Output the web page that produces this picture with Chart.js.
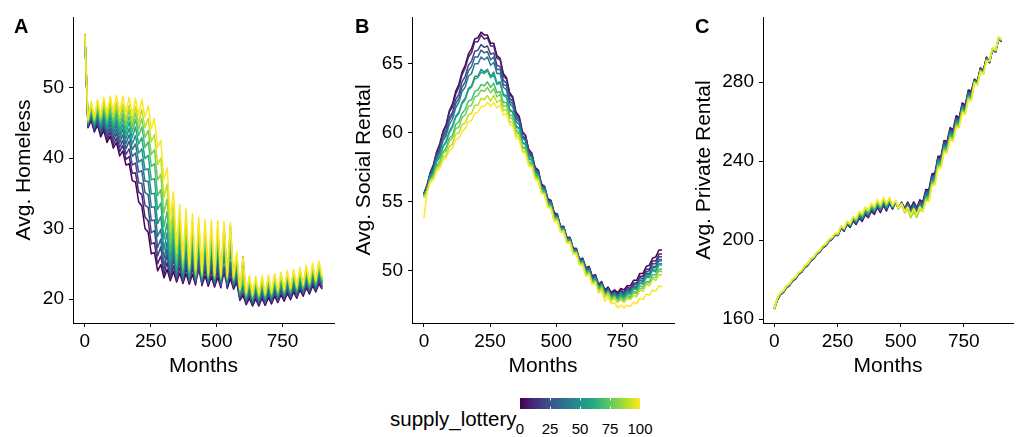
<!DOCTYPE html>
<html>
<head>
<meta charset="utf-8">
<script src="https://cdn.jsdelivr.net/npm/chart.js@4.4.0/dist/chart.umd.min.js"></script>
<style>
  body { margin: 0; background: #fff; width: 1016px; height: 437px; overflow: hidden; position: relative;
         font-family: "Liberation Sans", Arial, sans-serif; color: #000; }
  .panel { position: absolute; top: 0; height: 380px; }
  .tag { position: absolute; top: 16px; font-size: 20px; font-weight: bold; line-height: 1; }
  .lbl { position: absolute; line-height: 1; white-space: nowrap; }
</style>
</head>
<body>
<div class="panel" style="left:0;width:340px"><canvas id="homelessChart"></canvas></div>
<div class="panel" style="left:340px;width:340px"><canvas id="socialChart"></canvas></div>
<div class="panel" style="left:680px;width:336px"><canvas id="privateChart"></canvas></div>
<div class="tag" style="left:14px">A</div>
<div class="tag" style="left:355px">B</div>
<div class="tag" style="left:695px">C</div>

<div class="lbl" style="left:390px;top:409px;font-size:20.5px">supply_lottery</div>
<canvas id="colorbar" width="120" height="11" style="position:absolute;left:520px;top:398px"></canvas>
<div id="barLabels"></div>

<script>
// x values: months of the simulation
const months = [0,12,24,36,48,60,72,84,96,108,120,132,144,156,168,180,192,204,216,228,240,252,264,276,288,300,
  312,324,336,348,360,372,384,396,408,420,432,444,456,468,480,492,504,516,528,540,552,564,576,588,600,
  612,624,636,648,660,672,684,696,708,720,732,744,756,768,780,792,804,816,828,840,852,864,876,888,900];
const monthTicks = [0, 250, 500, 750];
const lotteryLevels = [0, 10, 20, 30, 40, 50, 60, 70, 80, 90, 100];
const legendTicks = [0, 25, 50, 75, 100];

// panel A: Avg. Homeless
const homeless0 = [57.5,44.3,45.3,43.7,44.7,43.0,43.9,42.2,43.1,41.4,42.2,40.3,41.0,39.0,39.2,36.8,36.6,33.8,33.2,30.0,29.5,26.4,26.6,24.0,24.9,23.0,24.2,22.6,23.9,22.4,23.7,22.2,23.6,22.1,23.5,22.0,28.8,21.9,23.3,21.8,23.2,21.7,23.1,21.6,29.8,21.5,22.9,21.4,22.4,19.8,20.5,19.2,20.1,19.0,20.0,19.0,20.1,19.1,20.2,19.3,20.4,19.5,20.6,19.7,20.8,19.9,21.0,20.1,21.3,20.4,21.6,20.7,21.9,21.0,22.2,21.4];
const homeless10 = [57.5,44.4,45.6,43.9,45.0,43.3,44.4,42.6,43.7,41.9,42.8,40.9,41.8,39.8,40.2,37.8,37.9,35.2,34.8,31.6,31.1,27.8,28.0,25.0,26.1,23.5,25.2,22.8,24.7,22.6,24.5,22.4,24.4,22.3,24.3,22.2,24.2,22.1,24.1,22.0,24.0,21.9,23.9,21.8,23.8,21.7,23.7,21.6,22.6,20.0,20.9,19.4,20.5,19.2,20.4,19.2,20.4,19.3,20.6,19.5,20.8,19.7,21.0,19.9,21.2,20.1,21.4,20.3,21.6,20.6,21.9,20.9,22.2,21.2,22.6,21.6];
const homeless20 = [57.5,44.5,45.8,44.1,45.4,43.6,44.8,43.0,44.2,42.4,43.5,41.5,42.5,40.5,41.3,39.0,39.3,36.5,36.4,33.3,33.0,29.4,29.7,26.1,27.4,24.1,26.3,23.2,25.7,22.9,25.4,22.6,25.2,22.5,25.1,22.4,25.0,22.3,24.9,22.2,24.8,22.1,24.7,22.0,24.6,21.9,24.5,21.8,23.1,20.1,26.0,19.5,20.7,19.3,20.6,19.3,20.7,19.4,20.8,19.6,21.0,19.8,21.2,20.0,21.4,20.2,21.6,20.4,21.9,20.7,22.2,21.0,22.5,21.3,22.8,21.7];
const homeless30 = [57.5,44.7,46.1,44.3,45.7,43.9,45.3,43.4,44.8,42.9,44.1,42.1,43.3,41.3,42.4,40.2,40.7,38.0,38.2,35.1,34.8,31.1,31.2,27.3,28.5,24.6,27.1,23.5,26.6,23.1,26.2,22.8,26.0,22.6,25.8,22.5,25.7,22.4,25.6,22.3,25.5,22.2,25.4,22.1,30.3,22.0,25.2,21.9,23.5,20.3,21.5,19.7,21.1,19.5,21.0,19.5,21.0,19.6,21.2,19.8,21.4,20.0,21.6,20.2,21.8,20.4,22.0,20.6,22.2,20.9,22.5,21.2,22.8,21.5,23.2,21.9];
const homeless40 = [57.5,44.8,46.4,44.5,46.1,44.2,45.7,43.8,45.3,43.4,44.8,42.7,44.1,42.0,43.3,41.2,42.0,39.4,39.8,36.7,36.7,33.0,33.1,28.9,29.9,25.7,28.1,24.1,27.5,23.4,27.1,23.0,26.8,22.8,26.6,22.7,26.5,22.6,26.4,22.5,26.3,22.4,26.2,22.3,26.1,22.2,30.3,22.1,24.0,20.5,21.8,19.9,21.4,19.7,21.3,19.7,21.4,19.8,21.5,20.0,21.7,20.2,21.9,20.4,22.1,20.6,22.3,20.8,22.6,21.1,22.9,21.4,23.2,21.7,23.5,22.1];
const homeless50 = [57.5,44.9,46.6,44.7,46.4,44.5,46.2,44.2,45.9,43.9,45.4,43.3,44.8,42.7,44.2,42.0,43.2,40.7,41.3,38.3,38.5,34.9,35.0,30.7,31.7,27.0,29.4,24.8,28.5,23.8,28.1,23.3,27.7,23.0,27.5,22.9,27.4,22.8,27.3,22.7,27.2,22.6,27.1,22.5,27.0,22.4,26.9,22.3,24.5,20.7,22.2,20.1,21.8,19.9,21.7,19.9,21.7,20.0,21.9,20.2,22.1,20.4,22.3,20.6,22.5,20.8,22.7,21.0,22.9,21.3,23.2,21.6,23.5,21.9,23.9,22.3];
const homeless60 = [57.5,45.0,46.9,44.9,46.8,44.8,46.6,44.6,46.4,44.4,46.1,43.9,45.6,43.4,45.1,42.9,44.4,42.0,42.9,39.9,40.4,36.9,37.1,32.7,33.6,28.5,30.8,25.5,29.5,24.3,29.1,23.7,28.6,23.3,28.3,23.1,28.2,23.0,28.1,22.9,28.0,22.8,27.9,22.7,27.8,22.6,27.7,22.5,25.0,20.8,22.4,20.2,22.0,20.0,21.9,20.0,22.0,20.1,22.1,20.3,22.3,20.5,22.5,20.7,22.7,20.9,22.9,21.1,23.2,21.4,23.5,21.7,23.8,22.0,24.1,22.4];
const homeless70 = [57.5,45.1,47.1,45.1,47.1,45.1,47.1,45.0,47.0,44.9,46.7,44.5,46.3,44.1,45.9,43.7,45.5,43.2,44.4,41.5,42.3,38.8,39.2,34.7,35.5,30.2,32.4,26.7,30.6,24.9,30.0,24.1,29.6,23.7,29.2,23.3,29.0,23.2,28.9,23.1,28.8,23.0,28.7,22.9,28.6,22.8,28.5,22.7,25.5,21.0,22.8,20.4,22.4,20.2,22.3,20.2,22.3,20.3,22.5,20.5,22.7,20.7,22.9,20.9,23.1,21.1,23.3,21.3,23.5,21.6,23.8,21.9,24.1,22.2,24.5,22.6];
const homeless80 = [57.5,45.2,47.4,45.3,47.5,45.4,47.5,45.4,47.5,45.4,47.4,45.1,47.1,44.8,46.8,44.5,46.4,44.1,45.6,42.9,43.9,40.5,41.2,36.9,37.7,32.2,34.2,28.1,31.9,25.7,31.0,24.5,30.6,24.0,30.1,23.5,29.8,23.3,29.6,23.2,29.5,23.1,29.4,23.0,29.3,22.9,29.2,22.8,25.8,21.2,23.1,20.6,22.7,20.4,22.6,20.4,22.7,20.5,22.8,20.7,23.0,20.9,23.2,21.1,23.4,21.3,23.6,21.5,23.9,21.8,24.2,22.1,24.5,22.4,24.8,22.8];
const homeless90 = [57.5,45.3,47.6,45.5,47.8,45.7,48.0,45.8,48.0,45.8,47.9,45.6,47.7,45.4,47.5,45.2,47.3,45.0,46.9,44.3,45.6,42.3,43.3,39.1,40.0,34.4,36.3,29.7,33.4,26.5,32.1,25.0,31.6,24.3,31.0,23.8,30.6,23.5,30.4,23.4,30.3,23.3,30.2,23.2,30.1,23.1,30.0,23.0,26.2,21.3,24.4,20.7,23.0,20.5,22.9,20.5,22.9,20.6,23.1,20.8,23.3,21.0,23.5,21.2,23.7,21.4,23.9,21.6,24.1,21.9,24.4,22.2,24.7,22.5,25.1,22.9];
const homeless100 = [57.5,45.5,48.0,45.8,48.3,46.1,48.6,46.4,48.8,46.6,48.9,46.5,48.8,46.4,48.6,46.2,48.5,46.1,48.3,45.8,47.4,44.2,45.6,41.5,42.5,36.9,38.6,31.7,35.2,27.6,33.4,25.7,32.8,24.7,32.1,24.2,31.6,23.8,31.3,23.6,31.2,23.5,31.1,23.4,31.0,23.3,30.9,23.2,26.7,21.5,26.0,20.9,23.3,20.7,23.2,20.7,23.3,20.8,23.4,21.0,23.6,21.2,23.8,21.4,24.0,21.6,24.2,21.8,24.5,22.1,24.8,22.4,25.1,22.7,25.4,23.1];

// panel B: Avg. Social Rental
const social0 = [55.6,56.2,57.1,57.7,58.6,59.2,60.1,60.6,61.6,62.1,63.0,63.5,64.4,64.9,65.7,66.1,66.8,66.9,67.3,67.1,67.1,66.5,66.5,65.6,65.4,64.3,64.0,62.9,62.6,61.5,61.2,60.1,59.8,58.8,58.5,57.5,57.3,56.3,56.1,55.2,55.1,54.2,54.1,53.2,53.2,52.4,52.4,51.6,51.6,50.8,50.9,50.2,50.3,49.6,49.7,49.0,49.2,48.6,48.8,48.4,48.6,48.4,48.7,48.6,48.9,48.9,49.3,49.3,49.8,49.8,50.3,50.4,50.9,51.0,51.5,51.5];
const social10 = [55.6,56.2,57.1,57.6,58.6,59.1,60.0,60.5,61.5,61.9,62.8,63.3,64.2,64.7,65.5,65.8,66.6,66.6,67.1,66.8,66.9,66.3,66.3,65.4,65.3,64.1,63.9,62.8,62.5,61.4,61.1,60.0,59.8,58.7,58.5,57.4,57.3,56.2,56.1,55.2,55.1,54.2,54.1,53.2,53.2,52.4,52.4,51.6,51.6,50.8,50.9,50.2,50.3,49.6,49.7,49.0,49.1,48.5,48.7,48.3,48.5,48.3,48.6,48.4,48.8,48.7,49.1,49.1,49.6,49.6,50.1,50.1,50.7,50.7,51.2,51.2];
const social20 = [55.5,56.1,57.0,57.5,58.4,58.9,59.8,60.2,61.1,61.5,62.4,62.8,63.7,64.1,64.9,65.2,65.9,66.0,66.4,66.2,66.3,65.7,65.8,64.9,64.8,63.8,63.6,62.5,62.3,61.2,60.9,59.8,59.6,58.6,58.4,57.3,57.2,56.2,56.0,55.1,55.0,54.1,54.0,53.1,53.2,52.3,52.4,51.5,51.6,50.7,50.8,50.1,50.2,49.5,49.6,48.9,49.1,48.4,48.7,48.2,48.4,48.2,48.5,48.3,48.7,48.6,49.0,49.0,49.5,49.4,49.9,50.0,50.5,50.5,51.0,51.0];
const social30 = [55.5,56.1,56.9,57.4,58.3,58.7,59.6,60.0,60.9,61.3,62.1,62.5,63.3,63.7,64.5,64.8,65.5,65.5,66.0,65.8,65.9,65.3,65.5,64.6,64.6,63.5,63.4,62.3,62.1,61.0,60.8,59.7,59.5,58.5,58.3,57.3,57.1,56.1,56.0,55.0,55.0,54.0,54.0,53.1,53.1,52.3,52.3,51.5,51.5,50.7,50.8,50.0,50.2,49.4,49.6,48.8,49.0,48.4,48.6,48.2,48.4,48.1,48.4,48.2,48.6,48.5,48.9,48.8,49.3,49.3,49.8,49.8,50.3,50.3,50.8,50.8];
const social40 = [55.5,56.0,56.9,57.3,58.1,58.6,59.4,59.8,60.6,61.0,61.8,62.2,63.0,63.3,64.1,64.3,65.0,65.0,65.5,65.3,65.5,64.9,65.1,64.3,64.3,63.3,63.1,62.1,61.9,60.8,60.6,59.6,59.4,58.4,58.2,57.2,57.0,56.0,55.9,55.0,54.9,54.0,53.9,53.0,53.1,52.2,52.3,51.4,51.5,50.6,50.8,50.0,50.1,49.4,49.5,48.8,49.0,48.4,48.6,48.1,48.3,48.1,48.4,48.2,48.5,48.4,48.8,48.8,49.3,49.2,49.7,49.7,50.2,50.2,50.7,50.7];
const social50 = [55.4,55.9,56.8,57.1,57.9,58.3,59.0,59.4,60.1,60.5,61.2,61.5,62.2,62.5,63.2,63.4,64.1,64.1,64.6,64.4,64.6,64.1,64.4,63.6,63.7,62.8,62.7,61.7,61.5,60.5,60.3,59.3,59.2,58.2,58.0,57.0,56.9,55.9,55.8,54.9,54.8,53.9,53.9,53.0,53.0,52.2,52.2,51.4,51.4,50.6,50.7,49.9,50.0,49.3,49.4,48.7,49.0,48.3,48.5,48.1,48.3,48.0,48.3,48.1,48.4,48.3,48.7,48.7,49.1,49.1,49.6,49.6,50.1,50.0,50.5,50.5];
const social60 = [55.4,55.9,56.7,57.1,57.9,58.2,59.0,59.3,60.0,60.4,61.1,61.4,62.1,62.4,63.1,63.3,63.9,64.0,64.4,64.3,64.5,64.0,64.2,63.5,63.6,62.7,62.6,61.6,61.5,60.4,60.3,59.3,59.1,58.1,58.0,57.0,56.9,55.9,55.8,54.9,54.8,53.9,53.8,53.0,53.0,52.2,52.2,51.4,51.4,50.6,50.6,49.9,50.0,49.3,49.4,48.7,48.9,48.3,48.5,48.0,48.2,47.9,48.2,48.0,48.3,48.3,48.7,48.6,49.1,49.0,49.5,49.5,50.0,49.9,50.4,50.4];
const social70 = [55.4,55.8,56.6,56.9,57.6,57.9,58.6,58.9,59.6,59.8,60.6,60.8,61.4,61.7,62.3,62.4,63.0,63.1,63.5,63.4,63.7,63.3,63.6,62.9,63.0,62.2,62.2,61.3,61.2,60.2,60.0,59.0,58.9,57.9,57.8,56.9,56.8,55.8,55.7,54.8,54.7,53.8,53.8,52.9,52.9,52.1,52.1,51.3,51.3,50.5,50.6,49.8,49.9,49.2,49.3,48.6,48.9,48.2,48.4,48.0,48.1,47.8,48.1,47.9,48.2,48.1,48.5,48.4,48.9,48.8,49.2,49.2,49.7,49.7,50.1,50.1];
const social80 = [55.3,55.8,56.6,56.8,57.5,57.8,58.5,58.7,59.4,59.6,60.3,60.4,61.1,61.3,61.9,62.0,62.6,62.7,63.1,63.0,63.3,62.9,63.2,62.6,62.8,61.9,62.0,61.1,61.0,60.0,59.9,58.9,58.8,57.8,57.7,56.8,56.7,55.7,55.6,54.7,54.6,53.7,53.7,52.9,52.9,52.1,52.1,51.3,51.3,50.5,50.5,49.7,49.8,49.1,49.2,48.5,48.8,48.1,48.4,47.9,48.1,47.8,48.0,47.8,48.1,48.0,48.4,48.3,48.7,48.7,49.1,49.1,49.5,49.5,50.0,49.9];
const social90 = [55.3,55.7,56.5,56.7,57.4,57.6,58.2,58.4,59.0,59.2,59.9,60.0,60.6,60.7,61.3,61.4,62.0,62.0,62.5,62.4,62.7,62.3,62.7,62.2,62.4,61.6,61.7,60.8,60.7,59.8,59.7,58.7,58.6,57.7,57.6,56.7,56.6,55.6,55.6,54.6,54.6,53.6,53.7,52.8,52.9,52.0,52.1,51.2,51.3,50.4,50.5,49.6,49.8,49.0,49.2,48.4,48.7,48.1,48.3,47.8,48.0,47.7,47.9,47.7,48.0,47.9,48.2,48.1,48.6,48.5,49.0,48.9,49.4,49.3,49.7,49.7];
const social100 = [53.8,55.7,56.4,56.6,57.2,57.4,58.0,58.2,58.7,58.9,59.5,59.6,60.1,60.3,60.8,60.9,61.4,61.5,61.9,61.9,62.2,61.9,62.2,61.8,62.0,61.3,61.4,60.6,60.5,59.6,59.5,58.6,58.5,57.6,57.5,56.6,56.5,55.6,55.5,54.6,54.5,53.6,53.6,52.8,52.8,52.0,52.0,51.2,51.2,50.4,50.4,49.6,49.7,49.0,49.1,48.4,48.5,47.8,48.1,47.6,47.7,47.3,47.5,47.3,47.5,47.4,47.7,47.6,48.0,47.9,48.3,48.2,48.6,48.5,48.9,48.8];

// panel C: Avg. Private Rental
const private0 = [165.0,169.7,172.3,173.5,175.8,176.9,179.2,180.3,182.6,183.7,186.0,187.1,189.4,190.5,192.8,193.9,196.1,197.1,199.3,200.3,202.4,202.3,205.9,204.5,207.9,206.4,209.6,207.9,211.1,209.4,212.8,211.3,214.6,213.0,216.5,213.9,217.6,214.7,218.5,215.7,219.1,216.0,219.2,216.0,219.3,216.3,219.4,216.4,220.4,219.4,225.6,225.5,233.5,234.0,242.5,242.5,250.5,250.0,257.0,256.0,263.0,262.0,269.5,268.5,276.0,275.5,281.5,280.5,287.3,286.0,292.7,289.8,296.5,295.2,301.9,300.5];
const private10 = [165.1,169.8,172.4,173.6,175.9,177.0,179.3,180.4,182.7,183.8,186.1,187.2,189.5,190.6,192.9,194.0,196.2,197.2,199.4,200.4,202.5,202.4,206.0,204.7,208.1,206.6,209.8,208.2,211.4,209.8,213.2,211.7,215.0,213.4,216.9,214.3,218.0,215.1,218.8,215.9,219.2,216.0,219.1,215.8,219.0,215.8,218.9,215.9,219.9,218.9,225.0,224.9,232.9,233.4,241.9,241.9,249.9,249.4,256.4,255.4,262.4,261.5,269.0,268.0,275.5,275.0,281.3,280.3,287.1,285.8,292.5,289.9,296.6,295.3,302.0,300.6];
const private20 = [165.2,169.9,172.5,173.7,176.0,177.1,179.4,180.5,182.8,183.9,186.2,187.3,189.6,190.7,193.0,194.1,196.3,197.3,199.5,200.5,202.6,202.5,206.1,204.8,208.3,206.8,210.1,208.5,211.8,210.2,213.6,212.1,215.4,213.8,217.3,214.7,218.4,215.5,219.1,216.1,219.3,216.0,219.0,215.6,218.7,215.3,218.4,215.4,219.4,218.3,224.4,224.3,232.3,232.8,241.3,241.3,249.3,248.8,255.8,254.8,261.8,261.0,268.5,267.5,275.0,274.5,281.1,280.1,286.9,285.6,292.3,290.0,296.7,295.4,302.1,300.7];
const private30 = [165.3,170.0,172.6,173.8,176.1,177.2,179.5,180.6,182.9,184.0,186.3,187.4,189.7,190.8,193.1,194.2,196.4,197.4,199.6,200.6,202.7,202.6,206.2,205.0,208.4,207.0,210.3,208.8,212.1,210.6,214.0,212.5,215.8,214.2,217.7,215.1,218.8,215.9,219.4,216.3,219.4,216.0,218.9,215.4,218.3,214.8,217.9,214.9,218.9,217.8,223.8,223.7,231.7,232.2,240.7,240.7,248.7,248.2,255.2,254.2,261.2,260.5,268.0,267.0,274.5,274.0,280.9,279.9,286.7,285.4,292.1,290.1,296.8,295.5,302.2,300.8];
const private40 = [165.4,170.1,172.7,173.9,176.2,177.3,179.6,180.7,183.0,184.1,186.4,187.5,189.8,190.9,193.2,194.3,196.5,197.5,199.7,200.7,202.8,202.7,206.4,205.1,208.6,207.2,210.6,209.1,212.5,211.0,214.4,212.9,216.2,214.6,218.1,215.5,219.2,216.3,219.7,216.5,219.5,216.0,218.8,215.2,217.9,214.3,217.4,214.4,218.4,217.2,223.2,223.1,231.1,231.6,240.1,240.1,248.1,247.6,254.6,253.6,260.6,260.0,267.5,266.5,274.0,273.5,280.7,279.7,286.5,285.2,291.9,290.2,296.9,295.6,302.3,300.9];
const private50 = [165.5,170.2,172.8,174.0,176.3,177.4,179.7,180.8,183.1,184.2,186.5,187.6,189.9,191.0,193.3,194.4,196.6,197.6,199.8,200.8,202.9,202.8,206.5,205.3,208.8,207.4,210.8,209.4,212.8,211.4,214.8,213.3,216.6,215.0,218.5,215.9,219.6,216.7,220.0,216.7,219.6,216.0,218.7,214.8,217.3,213.5,216.6,213.6,217.6,216.5,222.6,222.5,230.5,231.0,239.5,239.5,247.5,247.0,254.0,253.0,260.0,259.5,267.0,266.0,273.5,273.0,280.5,279.5,286.3,285.0,291.7,290.3,297.0,295.7,302.4,301.0];
const private60 = [165.6,170.3,172.9,174.1,176.4,177.5,179.8,180.9,183.2,184.3,186.6,187.7,190.0,191.1,193.4,194.5,196.7,197.7,199.9,200.9,203.0,202.9,206.6,205.5,209.0,207.6,211.1,209.7,213.2,211.8,215.2,213.7,217.0,215.4,218.9,216.3,220.0,217.1,220.3,216.9,219.7,216.0,218.6,214.5,216.8,212.8,215.9,212.9,216.9,215.9,222.0,221.9,229.9,230.4,238.9,238.9,246.9,246.4,253.4,252.4,259.4,259.0,266.5,265.5,273.0,272.5,280.3,279.3,286.1,284.8,291.5,290.4,297.1,295.8,302.5,301.1];
const private70 = [165.7,170.4,173.0,174.2,176.5,177.6,179.9,181.0,183.3,184.4,186.7,187.8,190.1,191.2,193.5,194.6,196.8,197.8,200.0,201.0,203.1,203.0,206.8,205.6,209.2,207.8,211.3,210.0,213.5,212.2,215.6,214.1,217.4,215.8,219.3,216.7,220.4,217.5,220.6,217.1,219.8,216.0,218.5,214.2,216.3,212.1,215.2,212.2,216.2,215.2,221.4,221.3,229.3,229.8,238.3,238.3,246.3,245.8,252.8,251.8,258.8,258.5,266.0,265.0,272.5,272.0,280.1,279.1,285.9,284.6,291.3,290.5,297.2,295.9,302.6,301.2];
const private80 = [165.8,170.5,173.1,174.3,176.6,177.7,180.0,181.1,183.4,184.5,186.8,187.9,190.2,191.3,193.6,194.7,196.9,197.9,200.1,201.1,203.2,203.1,206.9,205.8,209.3,208.0,211.6,210.3,213.9,212.6,216.0,214.5,217.8,216.2,219.7,217.1,220.8,217.9,220.9,217.3,219.9,216.0,218.4,213.8,215.6,211.3,214.4,211.4,215.4,214.5,220.8,220.7,228.7,229.2,237.7,237.7,245.7,245.2,252.2,251.2,258.2,258.0,265.5,264.5,272.0,271.5,279.9,278.9,285.7,284.4,291.1,290.6,297.3,296.0,302.7,301.3];
const private90 = [165.9,170.6,173.2,174.4,176.7,177.8,180.1,181.2,183.5,184.6,186.9,188.0,190.3,191.4,193.7,194.8,197.0,198.0,200.2,201.2,203.3,203.2,207.0,205.9,209.5,208.2,211.8,210.6,214.2,213.0,216.4,214.9,218.2,216.6,220.1,217.5,221.2,218.3,221.2,217.5,220.0,216.0,218.4,214.0,216.0,211.8,214.9,211.9,215.9,214.5,220.2,220.1,228.1,228.6,237.1,237.1,245.1,244.6,251.6,250.6,257.6,257.5,265.0,264.0,271.5,271.0,279.7,278.7,285.5,284.2,290.9,290.7,297.4,296.1,302.8,301.4];
const private100 = [165.0,170.7,173.3,174.5,176.8,177.9,180.2,181.3,183.6,184.7,187.0,188.1,190.4,191.5,193.8,194.9,197.1,198.1,200.3,201.3,203.4,203.3,207.2,206.1,209.7,208.4,212.1,210.9,214.6,213.4,216.8,215.3,218.6,217.0,220.5,217.9,221.6,218.7,221.5,217.7,220.1,216.0,218.5,214.4,216.8,212.8,215.9,212.9,216.9,214.7,219.6,219.5,227.5,228.0,236.5,236.5,244.5,244.0,251.0,250.0,257.0,257.0,264.5,263.5,271.0,270.5,279.5,278.5,285.3,284.0,290.7,290.8,297.5,296.2,302.9,301.5];

const homelessSeries = [homeless0, homeless10, homeless20, homeless30, homeless40, homeless50,
  homeless60, homeless70, homeless80, homeless90, homeless100];
const socialSeries = [social0, social10, social20, social30, social40, social50,
  social60, social70, social80, social90, social100];
const privateSeries = [private0, private10, private20, private30, private40, private50,
  private60, private70, private80, private90, private100];

// viridis, one colour per lottery level
const viridis = ['#440154', '#482475', '#414487', '#355F8D', '#2A788E', '#21918C',
  '#22A884', '#44BF70', '#7AD151', '#BDDF26', '#FDE725'];
const FONT = '"Liberation Sans", Arial, sans-serif';

function buildDatasets(seriesList) {
  return seriesList.map((vals, k) => ({
    label: 'supply_lottery ' + lotteryLevels[k],
    data: vals.map((v, i) => ({ x: months[i], y: v })),
    borderColor: viridis[k],
    borderWidth: 1.5,
    borderJoinStyle: 'round',
    pointRadius: 0,
    tension: 0,
    fill: false,
    order: seriesList.length - 1 - k   // yellow drawn last (on top)
  }));
}

function drawPanel(id, seriesList, yTitle, yMin, yMax, yTicks, yWidth, padRight) {
  new Chart(document.getElementById(id).getContext('2d'), {
    type: 'line',
    data: { datasets: buildDatasets(seriesList) },
    options: {
      responsive: true,
      maintainAspectRatio: false,
      animation: false,
      events: [],
      layout: { padding: { top: 17, right: padRight, bottom: 0, left: 0 } },
      plugins: { legend: { display: false }, tooltip: { enabled: false } },
      scales: {
        x: {
          type: 'linear', min: -45, max: 945,
          afterBuildTicks: axis => { axis.ticks = monthTicks.map(v => ({ value: v })); },
          afterFit: axis => { axis.height = 57; },
          border: { display: true, color: '#000', width: 1 },
          grid: { display: true, drawOnChartArea: false, drawTicks: true, tickLength: 4, color: '#000' },
          ticks: { color: '#000', font: { family: FONT, size: 19 }, padding: 3, maxRotation: 0 },
          title: { display: true, text: 'Months', color: '#000', font: { family: FONT, size: 21 },
                   padding: { top: 0, bottom: 1 } }
        },
        y: {
          type: 'linear', min: yMin, max: yMax,
          afterBuildTicks: axis => { axis.ticks = yTicks.map(v => ({ value: v })); },
          afterFit: axis => { axis.width = yWidth; },
          border: { display: true, color: '#000', width: 1 },
          grid: { display: true, drawOnChartArea: false, drawTicks: true, tickLength: 4, color: '#000' },
          ticks: { color: '#000', font: { family: FONT, size: 19 }, padding: 5 },
          title: { display: true, text: yTitle, color: '#000', font: { family: FONT, size: 21 },
                   padding: { top: 12, bottom: 0 } }
        }
      }
    }
  });
}

drawPanel('homelessChart', homelessSeries, 'Avg. Homeless', 16.6, 60.0, [20, 30, 40, 50], 73, 6);
drawPanel('socialChart', socialSeries, 'Avg. Social Rental', 46.2, 68.4, [50, 55, 60, 65], 72, 6);
drawPanel('privateChart', privateSeries, 'Avg. Private Rental', 158, 313, [160, 200, 240, 280], 83, 3);

// colour bar legend
(function () {
  const cv = document.getElementById('colorbar');
  const ctx = cv.getContext('2d');
  const g = ctx.createLinearGradient(0, 0, cv.width, 0);
  viridis.forEach((c, i) => g.addColorStop(i / (viridis.length - 1), c));
  ctx.fillStyle = g;
  ctx.fillRect(0, 0, cv.width, cv.height);
  ctx.strokeStyle = 'rgba(255,255,255,0.9)';
  ctx.lineWidth = 1;
  [25, 50, 75].forEach(v => {
    const x = Math.round(v / 100 * cv.width) + 0.5;
    ctx.beginPath();
    ctx.moveTo(x, 0); ctx.lineTo(x, 2.5);
    ctx.moveTo(x, cv.height - 2.5); ctx.lineTo(x, cv.height);
    ctx.stroke();
  });
  const holder = document.getElementById('barLabels');
  legendTicks.forEach(v => {
    const d = document.createElement('div');
    d.className = 'lbl';
    d.style.fontSize = '15px';
    d.style.top = '421px';
    d.style.left = (520 + v / 100 * 120) + 'px';
    d.style.transform = 'translateX(-50%)';
    d.textContent = v;
    holder.appendChild(d);
  });
})();
</script>
</body>
</html>
